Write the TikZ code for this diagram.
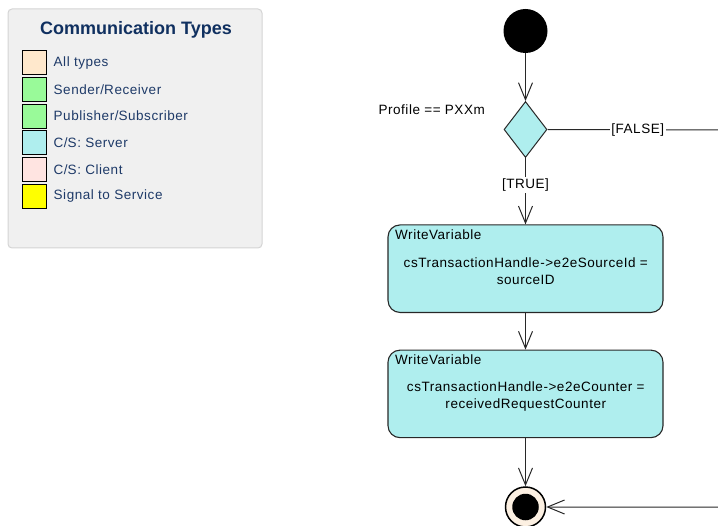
\documentclass[tikz,border=0pt]{standalone}
\usepackage{fontspec}
\setmainfont{Liberation Sans}
\newfontfamily\lsp[LetterSpace=4]{Liberation Sans}
\usetikzlibrary{shapes.geometric,arrows.meta}
\definecolor{legbg}{RGB}{240,240,240}
\definecolor{legbd}{RGB}{212,212,212}
\definecolor{legtitle}{RGB}{16,48,96}
\definecolor{legtext}{RGB}{30,58,104}
\definecolor{cAll}{RGB}{255,232,204}
\definecolor{cSR}{RGB}{153,250,153}
\definecolor{cSrv}{RGB}{175,238,238}
\definecolor{cCli}{RGB}{255,228,225}
\definecolor{cSig}{RGB}{255,255,0}
\definecolor{cFin}{RGB}{252,240,226}
\definecolor{bd}{RGB}{40,40,40}
\tikzset{
  lbl/.style={font=\lsp\fontsize{13.5bp}{15bp}\selectfont, inner sep=0pt},
  legitem/.style={lbl, text=legtext, anchor=west},
  swatch/.style={draw=black, line width=0.9bp},
  action/.style={draw=bd, line width=1.1bp, fill=cSrv, rounded corners=12bp,
    minimum width=275bp, minimum height=87.5bp, inner sep=0pt},
  flow/.style={draw=bd, line width=1bp, -{Straight Barb[length=17bp,width=14bp,line width=1bp]}},
  guard/.style={lbl, fill=white, inner sep=1.5bp}
}
\begin{document}
\begin{tikzpicture}[x=1bp,y=-1bp]
\useasboundingbox (0,0) rectangle (718,526);
% legend
\draw[legbd, fill=legbg, rounded corners=4bp, line width=1bp] (8,9) rectangle (262,248);
\node[font=\bfseries\fontsize{18bp}{20bp}\selectfont, text=legtitle, inner sep=0pt] (legtitle) at (136,30) {Communication Types};
\foreach \i/\c/\t in {0/cAll/All types,1/cSR/Sender\slash Receiver,2/cSR/Publisher\slash Subscriber,3/cSrv/C\slash S: Server,4/cCli/C\slash S: Client,5/cSig/Signal to Service}{
  \draw[swatch, fill=\c] (22,{50.7+\i*26.7}) rectangle (46,{74.7+\i*26.7});
  \node[legitem] (leg\i) at (53.5,{62.7+\i*26.7}) {\t};
}
% activity diagram
\node[circle, fill=black, minimum size=44bp, inner sep=0pt] (start) at (525.5,31) {};
\node[diamond, draw=bd, line width=1bp, fill=cSrv, minimum width=43bp, minimum height=56bp, inner sep=0pt] (dec) at (525.5,129.5) {};
\node[lbl] (cond) at (431.7,110) {Profile == PXXm};
\node[action] (act1) at (525.5,268.7) {};
\node[lbl, anchor=west] (act1t) at (395,234.5) {WriteVariable};
\node[lbl] (act1a) at (525.8,262.3) {csTransactionHandle->e2eSourceId =};
\node[lbl] (act1b) at (525.8,280.2) {sourceID};
\node[action] (act2) at (525.5,393.9) {};
\node[lbl, anchor=west] (act2t) at (395,359.8) {WriteVariable};
\node[lbl] (act2a) at (525.8,386.7) {csTransactionHandle->e2eCounter =};
\node[lbl] (act2b) at (525.8,404.8) {receivedRequestCounter};
\node[circle, draw=black, line width=1.5bp, fill=cFin, minimum size=40bp, inner sep=0pt] (final) at (525.5,507) {};
\node[circle, fill=black, minimum size=26.5bp, inner sep=0pt] (finalin) at (final.center) {};
\coordinate (fr1) at (728,130);
\coordinate (fr2) at (728,507);
% connectors
\draw[flow] (start) -- (dec.north);
\draw[flow] (dec.south) -- node[guard, pos=0.41] (tl) {[TRUE]} (act1.north);
\draw[flow] (act1.south) -- (act2.north);
\draw[flow] (act2.south) -- (final.north);
\draw[flow] (dec.east) -- node[guard, pos=0.5] (fl) {[FALSE]} (fr1) -- (fr2) -- (final.east);
\end{tikzpicture}
\end{document}
